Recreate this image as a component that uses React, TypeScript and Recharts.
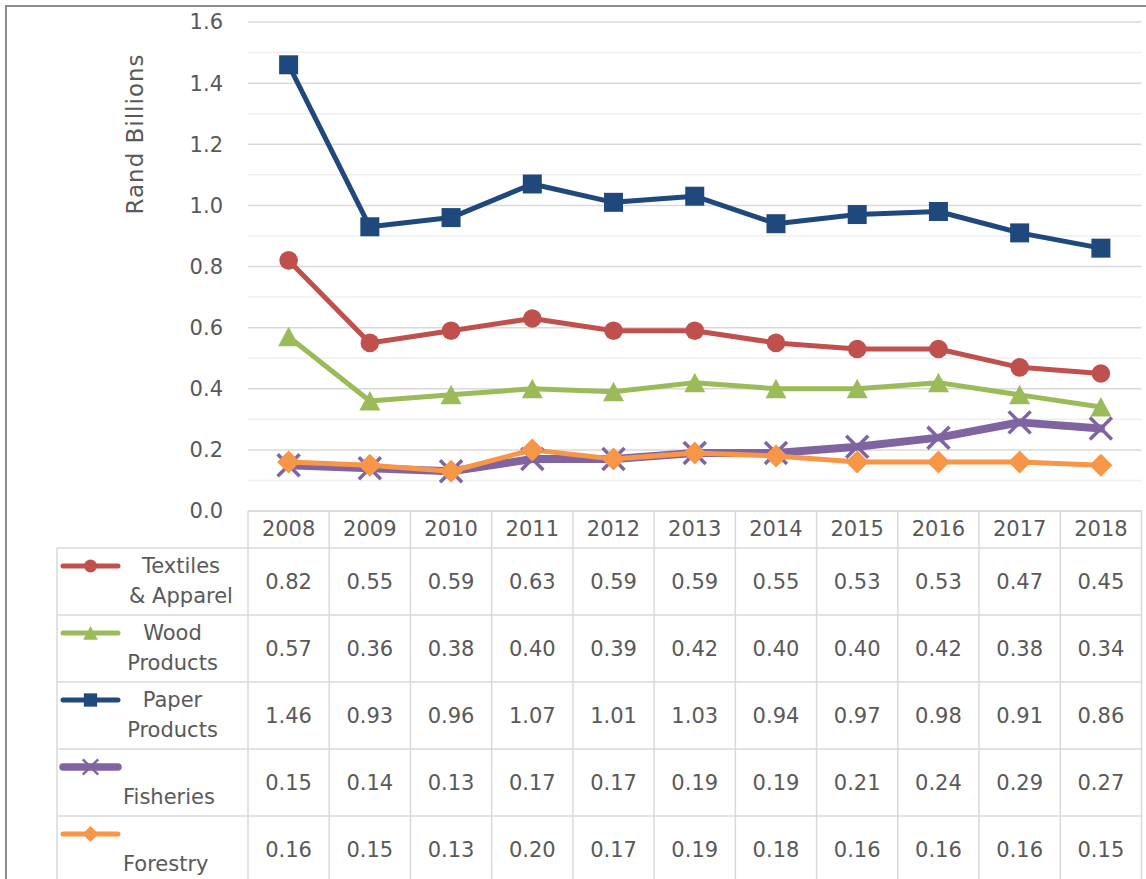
import React from 'react';
import { LineChart, Line, XAxis, YAxis, CartesianGrid, ReferenceLine, Customized } from 'recharts';

const years = ['2008', '2009', '2010', '2011', '2012', '2013', '2014', '2015', '2016', '2017', '2018'];
const textiles = [0.82, 0.55, 0.59, 0.63, 0.59, 0.59, 0.55, 0.53, 0.53, 0.47, 0.45];
const wood = [0.57, 0.36, 0.38, 0.40, 0.39, 0.42, 0.40, 0.40, 0.42, 0.38, 0.34];
const paper = [1.46, 0.93, 0.96, 1.07, 1.01, 1.03, 0.94, 0.97, 0.98, 0.91, 0.86];
const fisheries = [0.15, 0.14, 0.13, 0.17, 0.17, 0.19, 0.19, 0.21, 0.24, 0.29, 0.27];
const forestry = [0.16, 0.15, 0.13, 0.20, 0.17, 0.19, 0.18, 0.16, 0.16, 0.16, 0.15];
const yTicks = [0, 0.2, 0.4, 0.6, 0.8, 1.0, 1.2, 1.4, 1.6];
const minorTicks = [0.1, 0.3, 0.5, 0.7, 0.9, 1.1, 1.3, 1.5];

type Shape = 'circle' | 'triangle' | 'square' | 'x' | 'diamond';
const series: { key: string; label: string[]; values: number[]; color: string; shape: Shape; width: number; labelX: number; anchor: 'middle' | 'start' }[] = [
  { key: 'textiles', label: ['Textiles', '& Apparel'], values: textiles, color: '#C0504D', shape: 'circle', width: 5, labelX: 181, anchor: 'middle' },
  { key: 'wood', label: ['Wood', 'Products'], values: wood, color: '#9BBB59', shape: 'triangle', width: 5, labelX: 172.5, anchor: 'middle' },
  { key: 'paper', label: ['Paper', 'Products'], values: paper, color: '#1F497D', shape: 'square', width: 5, labelX: 172.5, anchor: 'middle' },
  { key: 'fisheries', label: ['', 'Fisheries'], values: fisheries, color: '#8064A2', shape: 'x', width: 8, labelX: 123, anchor: 'start' },
  { key: 'forestry', label: ['', 'Forestry'], values: forestry, color: '#F79646', shape: 'diamond', width: 5, labelX: 123, anchor: 'start' },
];

const data = years.map((y, i) => {
  const row: Record<string, number | string> = { year: y };
  series.forEach((s) => { row[s.key] = s.values[i]; });
  return row;
});

const W = 1146;
const H = 879;
const PLOT_LEFT = 248;
const PLOT_RIGHT = 1141.5;
const PLOT_TOP = 22;
const PLOT_BOTTOM = 511;
const COL_W = (PLOT_RIGHT - PLOT_LEFT) / years.length;
const HEADER_BOTTOM = 548;
const ROW_H = 67;
const LEG_LEFT = 57;
const GRID = '#d9d9d9';
const TXT = '#595959';
const FONT = '"Century Gothic", "DejaVu Sans", sans-serif';

const Marker = ({ shape, x, y, color, s = 1 }: { shape: Shape; x: number; y: number; color: string; s?: number }) => {
  switch (shape) {
    case 'circle':
      return <circle cx={x} cy={y} r={9.3 * s} fill={color} />;
    case 'triangle':
      return <polygon points={`${x},${y - 10 * s} ${x + 10.5 * s},${y + 9.5 * s} ${x - 10.5 * s},${y + 9.5 * s}`} fill={color} />;
    case 'square':
      return <rect x={x - 9.5 * s} y={y - 9.5 * s} width={19 * s} height={19 * s} fill={color} />;
    case 'x':
      return (
        <g stroke={color} strokeWidth={3.5 * s}>
          <line x1={x - 11 * s} y1={y - 11 * s} x2={x + 11 * s} y2={y + 11 * s} />
          <line x1={x - 11 * s} y1={y + 11 * s} x2={x + 11 * s} y2={y - 11 * s} />
        </g>
      );
    case 'diamond':
    default:
      return <polygon points={`${x},${y - 11.5 * s} ${x + 11.5 * s},${y} ${x},${y + 11.5 * s} ${x - 11.5 * s},${y}`} fill={color} />;
  }
};

const makeDot = (shape: Shape, color: string) => (props: any) => {
  const { cx, cy, index } = props;
  if (cx == null || cy == null) return <g key={`e-${shape}-${index}`} />;
  return (
    <g key={`d-${shape}-${index}`}>
      <Marker shape={shape} x={cx} y={cy} color={color} />
    </g>
  );
};

const TableColumn = (props: any) => {
  const { x, payload } = props;
  const idx = years.indexOf(String(payload.value));
  const left = x - COL_W / 2;
  const right = x + COL_W / 2;
  return (
    <g>
      <line x1={left} x2={left} y1={PLOT_BOTTOM} y2={H} stroke={GRID} strokeWidth={1.5} />
      {idx === years.length - 1 && <line x1={right} x2={right} y1={PLOT_BOTTOM} y2={H} stroke={GRID} strokeWidth={1.5} />}
      <text x={x} y={529} textAnchor="middle" dominantBaseline="central" fill={TXT} fontSize={21} fontFamily={FONT}>
        {payload.value}
      </text>
      {series.map((s, r) => (
        <text key={s.key} x={x} y={HEADER_BOTTOM + ROW_H * r + 34} textAnchor="middle" dominantBaseline="central" fill={TXT} fontSize={21} fontFamily={FONT}>
          {s.values[idx].toFixed(2)}
        </text>
      ))}
    </g>
  );
};

const TableFrame = () => (
  <g>
    {series.map((s, r) => {
      const top = HEADER_BOTTOM + ROW_H * r;
      const ky = top + 18;
      return (
        <g key={s.key}>
          <line x1={LEG_LEFT} x2={PLOT_RIGHT} y1={top} y2={top} stroke={GRID} strokeWidth={1.5} />
          <line x1={63} x2={118} y1={ky} y2={ky} stroke={s.color} strokeWidth={s.width === 8 ? 7.5 : 5} strokeLinecap="round" />
          <Marker shape={s.shape} x={90.5} y={ky} color={s.color} s={0.7} />
          {s.label[0] && (
            <text x={s.labelX} y={ky} textAnchor={s.anchor} dominantBaseline="central" fill={TXT} fontSize={21} fontFamily={FONT}>
              {s.label[0]}
            </text>
          )}
          <text x={s.labelX} y={top + 48} textAnchor={s.anchor} dominantBaseline="central" fill={TXT} fontSize={21} fontFamily={FONT}>
            {s.label[1]}
          </text>
        </g>
      );
    })}
    <line x1={LEG_LEFT} x2={LEG_LEFT} y1={HEADER_BOTTOM} y2={H} stroke={GRID} strokeWidth={1.5} />
    <text
      x={135}
      y={134}
      transform="rotate(-90 135 134)"
      textAnchor="middle"
      dominantBaseline="central"
      fill={TXT}
      fontSize={23}
      letterSpacing={1}
      fontFamily={FONT}
    >
      Rand Billions
    </text>
  </g>
);

export default function App() {
  return (
    <div style={{ position: 'absolute', left: 0, top: 0, width: W, height: H, overflow: 'hidden', background: '#fff' }}>
      <div
        style={{
          position: 'absolute',
          left: 5,
          top: 5,
          width: W + 20,
          height: H + 20,
          border: '2px solid #8c8c8c',
          boxSizing: 'border-box',
        }}
      />
      <div style={{ position: 'absolute', left: 0, top: 0 }}>
        <LineChart width={W} height={H} data={data} margin={{ top: PLOT_TOP, right: W - PLOT_RIGHT, bottom: 0, left: 0 }}>
          {minorTicks.map((v) => (
            <ReferenceLine key={v} y={v} stroke="#efefef" strokeWidth={1.5} />
          ))}
          <CartesianGrid vertical={false} stroke={GRID} strokeWidth={1.5} />
          <XAxis
            dataKey="year"
            height={H - PLOT_BOTTOM}
            interval={0}
            padding={{ left: COL_W / 2, right: COL_W / 2 }}
            axisLine={{ stroke: GRID, strokeWidth: 1.5 }}
            tickLine={false}
            tick={<TableColumn />}
          />
          <YAxis
            width={PLOT_LEFT}
            domain={[0, 1.6]}
            ticks={yTicks}
            tickFormatter={(v: number) => v.toFixed(1)}
            axisLine={false}
            tickLine={false}
            tickSize={0}
            tickMargin={25}
            tick={{ fill: TXT, fontSize: 21, fontFamily: FONT }}
          />
          <Customized component={TableFrame} />
          {series.map((s) => (
            <Line
              key={s.key}
              dataKey={s.key}
              name={s.label.join(' ').trim()}
              stroke={s.color}
              strokeWidth={s.width}
              strokeLinejoin="round"
              strokeLinecap="round"
              dot={makeDot(s.shape, s.color)}
              activeDot={false}
              isAnimationActive={false}
            />
          ))}
        </LineChart>
      </div>
    </div>
  );
}
